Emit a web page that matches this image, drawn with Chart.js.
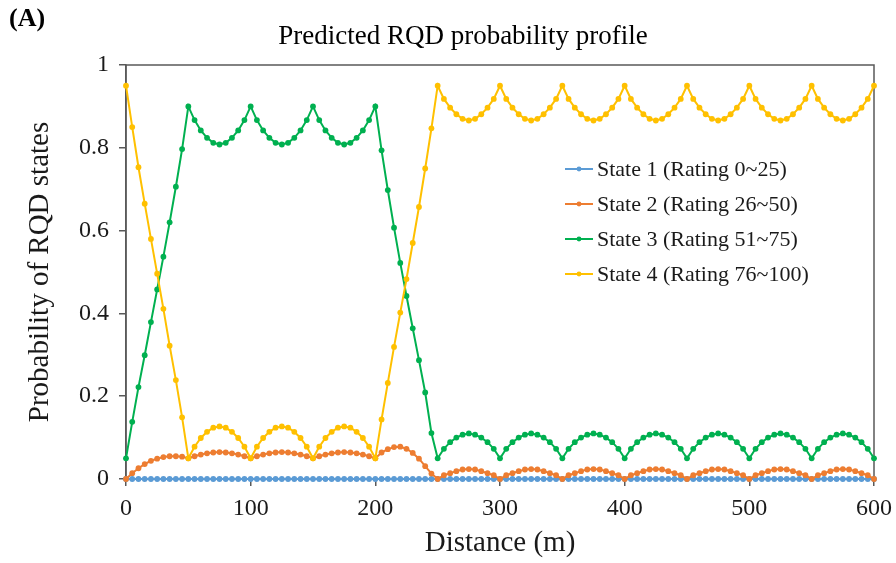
<!DOCTYPE html>
<html>
<head>
<meta charset="utf-8">
<script src="https://cdn.jsdelivr.net/npm/chart.js@4.4.1/dist/chart.umd.min.js"></script>
<style>
  html, body { margin: 0; padding: 0; background: #fff; }
  #wrap { width: 896px; height: 563px; position: relative; }
</style>
</head>
<body>
<div id="wrap"><canvas id="chart" width="896" height="563"></canvas></div>
<script>
const distance = [
  0, 5, 10, 15, 20, 25, 30, 35, 40, 45, 50, 55, 60, 65, 70, 75, 80, 85, 90, 95,
  100, 105, 110, 115, 120, 125, 130, 135, 140, 145, 150, 155, 160, 165, 170, 175, 180, 185, 190, 195,
  200, 205, 210, 215, 220, 225, 230, 235, 240, 245, 250, 255, 260, 265, 270, 275, 280, 285, 290, 295,
  300, 305, 310, 315, 320, 325, 330, 335, 340, 345, 350, 355, 360, 365, 370, 375, 380, 385, 390, 395,
  400, 405, 410, 415, 420, 425, 430, 435, 440, 445, 450, 455, 460, 465, 470, 475, 480, 485, 490, 495,
  500, 505, 510, 515, 520, 525, 530, 535, 540, 545, 550, 555, 560, 565, 570, 575, 580, 585, 590, 595,
  600
];

const state1 = [
  0, 0, 0, 0, 0, 0, 0, 0, 0, 0, 0, 0, 0, 0, 0, 0, 0, 0, 0, 0,
  0, 0, 0, 0, 0, 0, 0, 0, 0, 0, 0, 0, 0, 0, 0, 0, 0, 0, 0, 0,
  0, 0, 0, 0, 0, 0, 0, 0, 0, 0, 0, 0, 0, 0, 0, 0, 0, 0, 0, 0,
  0, 0, 0, 0, 0, 0, 0, 0, 0, 0, 0, 0, 0, 0, 0, 0, 0, 0, 0, 0,
  0, 0, 0, 0, 0, 0, 0, 0, 0, 0, 0, 0, 0, 0, 0, 0, 0, 0, 0, 0,
  0, 0, 0, 0, 0, 0, 0, 0, 0, 0, 0, 0, 0, 0, 0, 0, 0, 0, 0, 0,
  0
];

const state2 = [
  0, 0.014, 0.026, 0.036, 0.044, 0.049, 0.053, 0.055, 0.055, 0.054, 0.05,
  0.055, 0.059, 0.062, 0.064, 0.065, 0.064, 0.062, 0.059, 0.055, 0.05,
  0.055, 0.059, 0.062, 0.064, 0.065, 0.064, 0.062, 0.059, 0.055, 0.05,
  0.055, 0.059, 0.062, 0.064, 0.065, 0.064, 0.062, 0.059, 0.055, 0.05,
  0.064, 0.072, 0.077, 0.078, 0.073, 0.063, 0.049, 0.031, 0.013, 0,
  0.009, 0.014, 0.019, 0.023, 0.024, 0.023, 0.019, 0.014, 0.009, 0,
  0.009, 0.014, 0.019, 0.023, 0.024, 0.023, 0.019, 0.014, 0.009, 0,
  0.009, 0.014, 0.019, 0.023, 0.024, 0.023, 0.019, 0.014, 0.009, 0,
  0.009, 0.014, 0.019, 0.023, 0.024, 0.023, 0.019, 0.014, 0.009, 0,
  0.009, 0.014, 0.019, 0.023, 0.024, 0.023, 0.019, 0.014, 0.009, 0,
  0.009, 0.014, 0.019, 0.023, 0.024, 0.023, 0.019, 0.014, 0.009, 0,
  0.009, 0.014, 0.019, 0.023, 0.024, 0.023, 0.019, 0.014, 0.009, 0
];

const state3 = [
  0.05, 0.138, 0.222, 0.299, 0.379, 0.458, 0.537, 0.62, 0.706, 0.797, 0.9,
  0.867, 0.842, 0.824, 0.812, 0.808, 0.812, 0.824, 0.842, 0.867, 0.9,
  0.867, 0.842, 0.824, 0.812, 0.808, 0.812, 0.824, 0.842, 0.867, 0.9,
  0.867, 0.842, 0.824, 0.812, 0.808, 0.812, 0.824, 0.842, 0.867, 0.9,
  0.794, 0.698, 0.607, 0.522, 0.442, 0.364, 0.287, 0.209, 0.111, 0.05,
  0.073, 0.089, 0.1, 0.107, 0.11, 0.107, 0.1, 0.089, 0.073, 0.05,
  0.073, 0.089, 0.1, 0.107, 0.11, 0.107, 0.1, 0.089, 0.073, 0.05,
  0.073, 0.089, 0.1, 0.107, 0.11, 0.107, 0.1, 0.089, 0.073, 0.05,
  0.073, 0.089, 0.1, 0.107, 0.11, 0.107, 0.1, 0.089, 0.073, 0.05,
  0.073, 0.089, 0.1, 0.107, 0.11, 0.107, 0.1, 0.089, 0.073, 0.05,
  0.073, 0.089, 0.1, 0.107, 0.11, 0.107, 0.1, 0.089, 0.073, 0.05,
  0.073, 0.089, 0.1, 0.107, 0.11, 0.107, 0.1, 0.089, 0.073, 0.05
];

const state4 = [
  0.95, 0.85, 0.753, 0.665, 0.58, 0.496, 0.411, 0.322, 0.239, 0.149, 0.05,
  0.078, 0.099, 0.114, 0.124, 0.127, 0.124, 0.114, 0.099, 0.078, 0.05,
  0.078, 0.099, 0.114, 0.124, 0.127, 0.124, 0.114, 0.099, 0.078, 0.05,
  0.078, 0.099, 0.114, 0.124, 0.127, 0.124, 0.114, 0.099, 0.078, 0.05,
  0.144, 0.232, 0.319, 0.402, 0.483, 0.57, 0.657, 0.75, 0.847, 0.95,
  0.918, 0.897, 0.881, 0.87, 0.866, 0.87, 0.881, 0.897, 0.918, 0.95,
  0.918, 0.897, 0.881, 0.87, 0.866, 0.87, 0.881, 0.897, 0.918, 0.95,
  0.918, 0.897, 0.881, 0.87, 0.866, 0.87, 0.881, 0.897, 0.918, 0.95,
  0.918, 0.897, 0.881, 0.87, 0.866, 0.87, 0.881, 0.897, 0.918, 0.95,
  0.918, 0.897, 0.881, 0.87, 0.866, 0.87, 0.881, 0.897, 0.918, 0.95,
  0.918, 0.897, 0.881, 0.87, 0.866, 0.87, 0.881, 0.897, 0.918, 0.95,
  0.918, 0.897, 0.881, 0.87, 0.866, 0.87, 0.881, 0.897, 0.918, 0.95
];

const seriesNames = ['State 1 (Rating 0~25)', 'State 2 (Rating 26~50)', 'State 3 (Rating 51~75)', 'State 4 (Rating 76~100)'];
const seriesColors = ['#5B9BD5', '#ED7D31', '#00B050', '#FFC000'];
const yTicks = [0, 0.2, 0.4, 0.6, 0.8, 1];
const xTicks = [0, 100, 200, 300, 400, 500, 600];

const serif = "'Liberation Serif', 'Times New Roman', serif";
const axisGray = '#595959';
const textColor = '#1a1a1a';

const points = values => values.map((v, i) => ({ x: distance[i], y: v }));

const datasets = [state1, state2, state3, state4].map((values, i) => ({
  label: seriesNames[i],
  data: points(values),
  borderColor: seriesColors[i],
  backgroundColor: seriesColors[i],
  borderWidth: 2,
  pointRadius: 2.9,
  pointBorderWidth: 0,
  pointHoverRadius: 2.9,
  tension: 0,
  clip: false,
  order: 4 - i
}));

// box round the plot area, drawn under the lines
const frame = {
  id: 'frame',
  beforeDatasetsDraw(chart) {
    const { ctx, chartArea: a } = chart;
    ctx.save();
    ctx.strokeStyle = axisGray;
    ctx.lineWidth = 1.5;
    ctx.strokeRect(a.left, a.top, a.right - a.left, a.bottom - a.top);
    ctx.restore();
  }
};

// panel letter and title above the plot
const header = {
  id: 'header',
  afterDraw(chart) {
    const { ctx } = chart;
    ctx.save();
    ctx.fillStyle = '#000';
    ctx.textBaseline = 'middle';
    ctx.textAlign = 'left';
    ctx.font = `bold 26px ${serif}`;
    ctx.fillText('(A)', 9, 19);
    ctx.textAlign = 'center';
    ctx.font = `27px ${serif}`;
    ctx.fillText('Predicted RQD probability profile', 463, 37);
    ctx.restore();
  }
};

// legend inside the plot: short line with a dot, then the name
const insideLegend = {
  id: 'insideLegend',
  afterDatasetsDraw(chart) {
    const { ctx } = chart;
    ctx.save();
    ctx.font = `22px ${serif}`;
    ctx.textBaseline = 'middle';
    ctx.textAlign = 'left';
    seriesNames.forEach((name, i) => {
      const y = 169 + i * 35;
      ctx.strokeStyle = seriesColors[i];
      ctx.lineWidth = 2;
      ctx.beginPath(); ctx.moveTo(565, y); ctx.lineTo(593, y); ctx.stroke();
      ctx.fillStyle = seriesColors[i];
      ctx.beginPath(); ctx.arc(579, y, 2.4, 0, Math.PI * 2); ctx.fill();
      ctx.fillStyle = textColor;
      ctx.fillText(name, 597, y + 1);
    });
    ctx.restore();
  }
};

new Chart(document.getElementById('chart'), {
  type: 'line',
  data: { datasets },
  options: {
    responsive: false,
    animation: false,
    devicePixelRatio: 1,
    layout: { padding: { top: 65, right: 22, left: 0, bottom: 0 } },
    plugins: { legend: { display: false }, title: { display: false }, tooltip: { enabled: false } },
    scales: {
      x: {
        type: 'linear',
        min: 0, max: 600,
        afterFit: s => { s.height = 84; s.paddingLeft = 0; s.paddingRight = 0; },
        afterBuildTicks: s => { s.ticks = xTicks.map(v => ({ value: v })); },
        ticks: { color: textColor, font: { family: serif, size: 24 }, padding: 8, maxRotation: 0, callback: v => String(v) },
        grid: { display: true, drawOnChartArea: false, drawTicks: true, tickLength: 7, color: axisGray, lineWidth: 1.5 },
        border: { display: true, color: axisGray, width: 1.5 },
        title: { display: true, text: 'Distance (m)', color: textColor, font: { family: serif, size: 29 }, padding: { top: 0, bottom: 2 } }
      },
      y: {
        min: 0, max: 1,
        afterFit: s => { s.width = 126; s.paddingTop = 0; s.paddingBottom = 0; },
        afterBuildTicks: s => { s.ticks = yTicks.map(v => ({ value: v })); },
        ticks: { color: textColor, font: { family: serif, size: 24 }, padding: 10, callback: v => String(v) },
        grid: { display: true, drawOnChartArea: false, drawTicks: true, tickLength: 7, color: axisGray, lineWidth: 1.5 },
        border: { display: true, color: axisGray, width: 1.5 },
        title: { display: true, text: 'Probability of RQD states', color: textColor, font: { family: serif, size: 29 }, padding: { top: 23, bottom: 0 } }
      }
    }
  },
  plugins: [frame, insideLegend, header]
});
</script>
</body>
</html>
